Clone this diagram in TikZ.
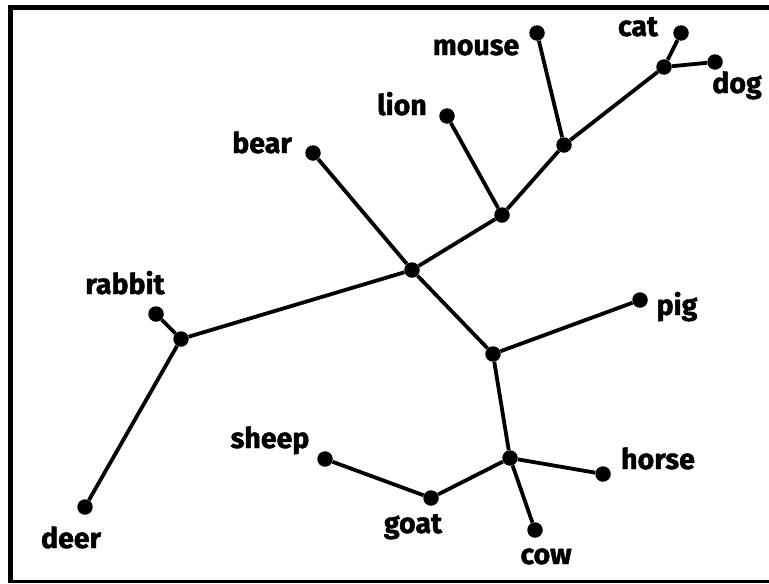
\documentclass[tikz,border=0pt]{standalone}
\usepackage{fontspec}
\setmainfont{Fira Sans}[BoldFeatures={FakeBold=1.6}]
\usetikzlibrary{positioning}

\tikzset{
  dot/.style={circle, fill=black, inner sep=0pt, minimum size=15.5pt},
  branch/.style={line width=3.8pt},
  animal/.style={font=\fontsize{28.5}{28.5}\selectfont\bfseries, anchor=base, inner sep=0pt}
}

\begin{document}
\begin{tikzpicture}[x=1pt, y=-1pt]
  \useasboundingbox (0,0) rectangle (769,584);

  % Frame (right side cut off)
  \draw[line width=5pt] (769,7.5) -- (10.5,7.5) -- (10.5,581.5);
  \draw[line width=3.5pt] (8,581.5) -- (769,581.5);

  % Inner points
  \node[dot] (c)  at (412,270) {};
  \node[dot] (j1) at (502,215) {};
  \node[dot] (j2) at (564,145) {};
  \node[dot] (j3) at (664,67) {};
  \node[dot] (j4) at (181,339) {};
  \node[dot] (j5) at (493,354) {};
  \node[dot] (j6) at (510,458) {};
  \node[dot] (j7) at (431,498) {};

  % Leaves
  \node[dot] (mouse)  at (537,33) {};
  \node[dot] (cat)    at (681,33) {};
  \node[dot] (dog)    at (715,62) {};
  \node[dot] (lion)   at (447,116) {};
  \node[dot] (bear)   at (313,153) {};
  \node[dot] (rabbit) at (156,314) {};
  \node[dot] (deer)   at (85,507) {};
  \node[dot] (pig)    at (640,300) {};
  \node[dot] (horse)  at (603,474) {};
  \node[dot] (cow)    at (535,530) {};
  \node[dot] (sheep)  at (325,459) {};

  % Branches
  \draw[branch] (bear) -- (c) -- (j5) -- (j6) -- (cow);
  \draw[branch] (j4) -- (c) -- (j1) -- (j2) -- (j3) -- (cat);
  \draw[branch] (j3) -- (dog);
  \draw[branch] (j2) -- (mouse);
  \draw[branch] (j1) -- (lion);
  \draw[branch] (rabbit) -- (j4) -- (deer);
  \draw[branch] (j5) -- (pig);
  \draw[branch] (j6) -- (horse);
  \draw[branch] (j6) -- (j7) -- (sheep);

  % Labels
  \node[animal] (lmouse)  at (476,55)  {mouse};
  \node[animal] (lcat)    at (638,36)  {cat};
  \node[animal] (ldog)    at (737,93)  {dog};
  \node[animal] (llion)   at (402,115) {lion};
  \node[animal] (lbear)   at (262,153) {bear};
  \node[animal] (lrabbit) at (125,294) {rabbit};
  \node[animal] (ldeer)   at (71,548)  {deer};
  \node[animal] (lpig)    at (677,315) {pig};
  \node[animal] (lsheep)  at (270,448) {sheep};
  \node[animal] (lgoat)   at (413,533) {goat};
  \node[animal] (lcow)    at (546,564) {cow};
  \node[animal] (lhorse)  at (658,469) {horse};
\end{tikzpicture}
\end{document}
